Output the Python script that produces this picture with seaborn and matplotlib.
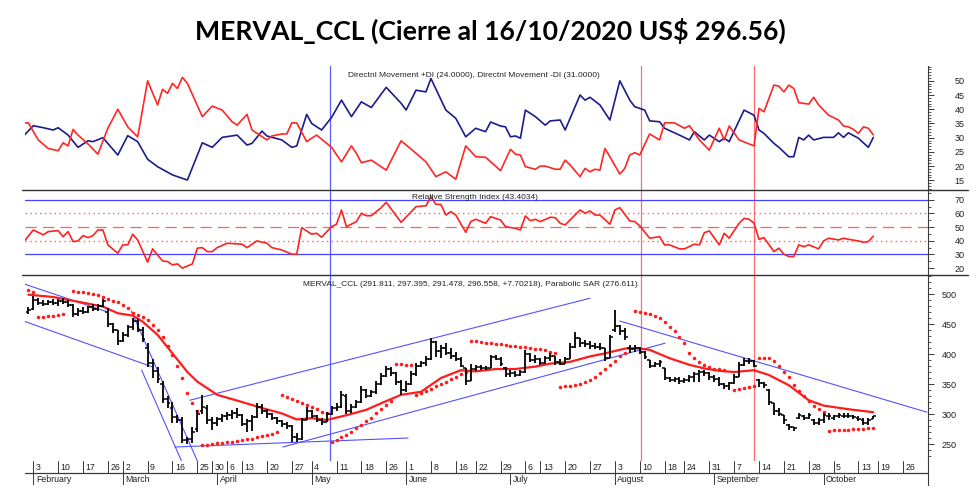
import numpy as np
import pandas as pd
import seaborn as sns
import matplotlib.pyplot as plt
from matplotlib.lines import Line2D


#%% Data (x = trading-day index, 0 = Feb 3 2020)

Title_Text   = "MERVAL_CCL (Cierre al 16/10/2020 US$ 296.56)"
DMI_Caption  = "Directnl Movement +DI (24.0000), Directnl Movement -DI (31.0000)"
RSI_Caption  = "Relative Strength Index (43.4034)"
PX_Caption   = "MERVAL_CCL (291.811, 297.395, 291.478, 296.558, +7.70218), Parabolic SAR (276.611)"

Holidays = ["2020-02-24", "2020-02-25", "2020-03-23", "2020-03-24", "2020-03-31",
            "2020-04-02", "2020-04-09", "2020-04-10", "2020-05-01", "2020-05-25",
            "2020-06-15", "2020-07-09", "2020-07-10", "2020-08-17", "2020-10-12"]

# price bars, day -1 .. 169
bar_first_day = -1
bar_open = [470, 475, 490, 485, 484, 487, 485, 488, 486, 482, 467, 472, 470, 478, 475, 480, 470, 450, 440, 422,
            432, 445, 455, 440, 410, 385, 372, 350, 325, 310, 295, 290, 256, 258, 275, 305, 310, 290, 285, 292,
            296, 299, 302, 298, 284, 288, 295, 312, 305, 300, 293, 288, 284, 280, 262, 258, 290, 305, 297, 290,
            287, 300, 310, 312, 330, 305, 312, 320, 340, 330, 336, 350, 364, 375, 368, 354, 340, 350, 366, 380,
            385, 392, 420, 405, 410, 402, 396, 392, 376, 355, 375, 378, 376, 377, 395, 392, 377, 366, 368, 365,
            370, 400, 390, 392, 385, 393, 396, 386, 384, 392, 412, 426, 418, 416, 414, 412, 410, 394, 440, 446,
            438, 410, 408, 410, 404, 390, 380, 384, 376, 360, 357, 358, 355, 357, 362, 366, 370, 368, 362, 358,
            350, 346, 351, 362, 382, 388, 389, 357, 352, 340, 318, 305, 298, 282, 278, 293, 296, 294, 290, 285,
            290, 296, 294, 296, 296, 297, 296, 294, 290, 285, 291.8]
bar_high = [478, 497, 494, 490, 490, 492, 491, 493, 490, 484, 476, 478, 480, 484, 483, 492, 476, 452, 440, 437,
            448, 460, 458, 445, 418, 392, 378, 355, 330, 320, 298, 295, 262, 278, 307, 332, 315, 295, 295, 300,
            303, 306, 310, 300, 292, 298, 318, 316, 308, 302, 295, 290, 286, 282, 268, 294, 312, 306, 299, 294,
            304, 314, 318, 338, 333, 316, 324, 347, 342, 340, 355, 368, 380, 378, 370, 356, 355, 371, 385, 388,
            396, 427, 422, 415, 418, 410, 403, 395, 376, 383, 382, 382, 380, 398, 399, 395, 378, 373, 371, 374,
            407, 401, 398, 393, 396, 402, 397, 391, 395, 418, 436, 426, 424, 422, 418, 418, 410, 432, 473, 448,
            443, 415, 415, 412, 405, 390, 387, 390, 377, 362, 362, 362, 360, 365, 370, 373, 373, 370, 365, 362,
            351, 353, 366, 387, 393, 394, 390, 358, 354, 341, 319, 310, 299, 283, 279, 301, 298, 301, 291, 294,
            301, 302, 299, 301, 301, 301, 299, 296, 293, 294, 297.4]
bar_low = [466, 474, 482, 480, 481, 482, 480, 483, 478, 462, 464, 466, 468, 472, 472, 478, 445, 435, 415, 420,
           428, 440, 436, 420, 378, 360, 352, 318, 310, 285, 285, 252, 250, 252, 270, 300, 283, 273, 280, 286,
           290, 292, 293, 280, 270, 272, 294, 300, 294, 290, 283, 279, 275, 254, 253, 256, 290, 293, 287, 282,
           286, 298, 305, 310, 300, 302, 310, 318, 326, 328, 334, 348, 362, 364, 348, 332, 337, 348, 364, 378,
           380, 390, 395, 393, 398, 392, 388, 378, 348, 355, 371, 373, 373, 376, 390, 380, 362, 362, 362, 364,
           369, 386, 385, 381, 384, 389, 382, 381, 383, 391, 410, 412, 411, 409, 409, 406, 389, 393, 436, 431,
           423, 401, 403, 400, 392, 376, 378, 379, 356, 353, 353, 350, 351, 353, 353, 354, 364, 357, 354, 346,
           342, 340, 350, 361, 380, 384, 378, 345, 343, 315, 298, 296, 284, 273, 272, 292, 290, 292, 281, 282,
           285, 290, 290, 293, 293, 293, 292, 289, 282, 282, 291.5]
bar_close = [474, 490, 485, 484, 487, 485, 488, 486, 482, 467, 472, 470, 478, 475, 480, 488, 450, 440, 422, 432,
             445, 455, 440, 425, 385, 372, 358, 325, 318, 295, 290, 256, 258, 270, 300, 312, 290, 285, 292, 296,
             299, 302, 298, 284, 288, 295, 312, 305, 300, 293, 288, 284, 280, 262, 258, 290, 305, 297, 290, 287,
             300, 310, 312, 332, 305, 312, 320, 340, 330, 336, 350, 364, 375, 368, 354, 340, 350, 366, 380, 385,
             392, 420, 405, 410, 402, 396, 392, 380, 355, 375, 378, 376, 377, 395, 392, 384, 366, 368, 365, 370,
             400, 390, 392, 385, 393, 396, 386, 384, 392, 412, 426, 418, 416, 414, 412, 410, 394, 428, 446, 438,
             428, 408, 410, 404, 395, 380, 384, 386, 360, 357, 358, 355, 357, 362, 366, 370, 368, 362, 358, 350,
             346, 351, 362, 382, 388, 389, 380, 352, 348, 320, 305, 300, 290, 278, 276, 298, 294, 298, 285, 290,
             298, 296, 296, 298, 297, 297, 295, 292, 285, 290, 296.6]

# moving average (red line)
ma_day = [-1, 4, 11, 14, 17, 20, 22, 25, 28, 31, 33, 37, 42, 46, 50, 53, 56, 59, 63, 67,
          70, 74, 78, 82, 86, 89, 93, 97, 101, 104, 108, 112, 115, 119, 121, 124, 128, 132, 135, 138,
          141, 145, 148, 152, 156, 159, 164, 169]
ma_val = [499, 495, 484, 479, 468, 464, 454, 432, 401, 370, 354, 332, 320, 310, 301, 291, 293, 290, 298, 307,
          318, 332, 337, 360, 373, 371, 375, 375, 379, 384, 387, 396, 401, 409, 410, 407, 393, 382, 376, 372,
          370, 373, 365, 348, 323, 314, 308, 303]

# parabolic SAR runs: (first day, values)
sar_runs = [(-1, [506, 503]),
            (1, [461, 462, 463, 464, 465, 466]),
            (8, [505, 504, 503, 502, 500, 498, 495, 492, 489, 486, 482, 476, 468, 465, 462, 457, 449, 440, 428, 413,
                 398, 380, 360, 335, 318, 305]),
            (34, [248, 249, 250, 251, 252, 253, 254, 255, 256, 258, 259, 261, 263, 265, 267, 270]),
            (50, [332, 329, 325, 322, 318, 315, 311, 308, 304, 301]),
            (60, [254, 257, 261, 265, 270, 276, 282, 288, 294, 301, 308, 315, 322]),
            (73, [384, 383, 382, 381]),
            (77, [332, 335, 338, 342, 346, 350, 354, 358, 362, 366, 370]),
            (88, [422, 421, 420, 419, 418, 417, 416, 415, 414, 413, 412, 411, 410, 409, 408, 406, 404, 402]),
            (106, [345, 346, 347, 348, 350, 353, 357, 362, 368, 375, 382, 389, 396, 402]),
            (121, [472, 470.5, 469, 467.5, 464, 459.5, 453, 445.5, 438, 429, 418, 402, 393, 387, 382, 378, 375.5,
                   374.5, 374]),
            (141, [340, 342, 344, 345, 347]),
            (146, [394, 393.5, 393, 389, 380, 370, 361, 348, 339, 330, 322, 314, 308, 303]),
            (160, [272.5, 273, 273.3, 273.6, 274, 274.5, 275, 275.5, 276, 276.6])]

# trend lines drawn on the price chart: (day0, price0, day1, price1)
trend_lines = [(-2.3, 518, 14.6, 471),
               (-2.3, 456, 23.8, 379),
               (19.7, 472, 33.1, 220),
               (21.8, 373, 29.9, 220),
               (28.5, 245, 75.4, 260),
               (31.5, 323, 112.0, 493),
               (50.2, 245, 127.1, 418),
               (118.0, 455, 179.8, 303)]

# DMI
dip_day = [-2, 0, 2, 4, 5, 7, 9, 11, 12, 14, 17, 19, 21, 23, 25, 28, 31, 34, 36, 38,
           41, 43, 44, 46, 47, 50, 52, 53, 55, 56, 58, 60, 62, 64, 66, 68, 71, 74, 75, 77,
           79, 80, 83, 85, 87, 89, 91, 92, 94, 95, 96, 97, 98, 99, 101, 103, 104, 106, 107, 110,
           111, 112, 114, 116, 118, 120, 121, 123, 124, 126, 127, 130, 132, 133, 134, 135, 136, 138, 139, 140,
           143, 145, 146, 147, 149, 150, 152, 153, 154, 155, 156, 157, 159, 161, 162, 163, 164, 166, 168, 169]
dip_val = [30.5, 34.2, 33.5, 32.7, 33.5, 30.9, 26.6, 28.9, 28.6, 30.0, 23.9, 30.7, 28.6, 22.4, 19.8, 16.9, 15.1, 28.2, 26.6, 30.1,
           30.9, 27.4, 28.0, 32.3, 30.6, 29.2, 26.6, 27.1, 38.2, 35.0, 32.7, 37.1, 43.2, 37.4, 42.6, 40.6, 47.7, 42.1, 39.7, 46.7,
           46.1, 50.8, 39.7, 36.8, 30.3, 33.3, 32.1, 35.5, 34.1, 33.8, 30.3, 30.6, 29.8, 39.7, 37.4, 34.4, 35.9, 36.2, 32.7, 45.0,
           43.2, 44.2, 41.5, 36.2, 50.0, 43.2, 40.9, 39.7, 35.9, 35.6, 33.3, 30.9, 29.2, 32.1, 30.6, 29.2, 30.9, 28.6, 29.8, 28.6,
           39.7, 37.9, 32.7, 31.5, 28.0, 26.6, 23.3, 23.3, 30.1, 29.2, 30.9, 29.2, 30.1, 30.1, 31.7, 30.1, 31.7, 29.8, 26.6, 30.1]

dim_day = [-2, -1, 1, 3, 5, 6, 7, 8, 9, 11, 13, 15, 17, 19, 21, 23, 25, 26, 27, 28,
           29, 30, 31, 34, 36, 38, 40, 41, 43, 44, 47, 48, 50, 51, 52, 53, 55, 56, 57, 60,
           62, 64, 65, 66, 68, 71, 74, 77, 79, 81, 83, 85, 87, 89, 91, 93, 94, 96, 97, 98,
           99, 101, 102, 103, 105, 106, 107, 108, 110, 111, 112, 113, 114, 115, 116, 118, 119, 120, 121, 122,
           124, 126, 127, 129, 131, 132, 134, 136, 138, 139, 140, 142, 145, 146, 147, 149, 150, 151, 152, 153,
           154, 156, 157, 158, 160, 162, 163, 164, 165, 166, 167, 168, 169]
dim_val = [35.2, 35.2, 29.2, 26.2, 25.4, 28.2, 27.1, 32.9, 30.9, 27.8, 24.2, 33.3, 40.0, 33.8, 30.3, 50.0, 41.5, 47.0, 45.6, 49.1,
           47.3, 51.2, 49.1, 37.4, 41.1, 39.7, 35.6, 34.4, 38.2, 32.7, 29.2, 30.6, 31.3, 31.3, 35.2, 35.2, 28.6, 29.8, 30.9, 26.6,
           21.5, 27.1, 24.5, 21.2, 22.1, 18.6, 28.9, 24.5, 21.5, 16.3, 18.0, 15.4, 27.1, 23.3, 23.1, 20.0, 18.4, 25.9, 24.2, 23.9,
           19.8, 18.9, 20.0, 20.0, 18.9, 18.9, 22.1, 20.4, 16.3, 19.2, 18.0, 18.9, 18.6, 26.2, 23.3, 17.2, 19.2, 23.9, 24.7, 23.9,
           31.3, 29.2, 35.2, 35.2, 33.3, 34.2, 29.2, 25.6, 33.3, 29.2, 34.1, 29.2, 27.1, 40.3, 39.1, 48.5, 48.1, 46.1, 48.5, 47.3,
           42.3, 41.8, 44.2, 41.5, 37.9, 36.2, 34.1, 33.8, 32.9, 31.5, 33.8, 33.3, 31.0]

# RSI
rsi_day = [-2, 0, 2, 3, 5, 6, 7, 8, 9, 10, 11, 12, 13, 14, 15, 17, 18, 19, 20, 21,
           23, 24, 26, 27, 28, 29, 30, 32, 33, 34, 35, 36, 37, 39, 42, 43, 45, 47, 48, 50,
           52, 53, 54, 56, 57, 58, 60, 61, 62, 63, 65, 66, 67, 68, 70, 71, 74, 77, 79, 80,
           81, 82, 83, 84, 85, 87, 88, 89, 91, 92, 94, 95, 97, 98, 99, 100, 101, 102, 104, 105,
           106, 107, 110, 111, 112, 113, 114, 116, 117, 118, 120, 121, 122, 124, 126, 127, 128, 130, 131, 133,
           134, 135, 136, 138, 139, 140, 142, 143, 144, 145, 146, 147, 149, 150, 151, 152, 153, 154, 155, 156,
           158, 159, 160, 162, 163, 164, 166, 167, 168, 169]
rsi_val = [38.9, 47.9, 44.3, 46.7, 47.4, 43.0, 46.7, 39.4, 39.9, 43.8, 42.3, 43.8, 47.9, 47.9, 37.0, 30.9, 37.0, 37.0, 44.8, 40.6,
           24.4, 34.1, 25.3, 24.8, 22.4, 23.1, 20.0, 23.1, 34.6, 35.0, 32.1, 32.1, 35.0, 38.2, 37.5, 35.0, 39.9, 38.2, 35.0, 33.3,
           30.2, 30.2, 49.6, 44.8, 45.5, 42.6, 50.3, 52.1, 62.5, 50.3, 54.0, 60.1, 58.3, 58.3, 64.2, 68.1, 53.5, 64.9, 65.6, 72.2,
           66.6, 66.6, 58.8, 61.3, 58.8, 46.2, 54.0, 55.7, 52.8, 57.6, 55.2, 50.3, 49.1, 47.9, 58.1, 54.7, 55.7, 54.0, 57.2, 56.9,
           52.8, 51.6, 62.5, 60.1, 61.8, 58.8, 58.8, 52.1, 62.5, 64.2, 54.5, 54.0, 51.0, 41.9, 43.0, 37.0, 37.0, 34.1, 34.1, 37.5,
           37.0, 45.9, 47.2, 37.0, 45.5, 41.9, 52.8, 56.4, 55.7, 52.8, 41.1, 42.3, 32.1, 34.6, 30.2, 28.5, 28.5, 37.0, 35.7, 37.0,
           34.1, 39.9, 41.9, 40.6, 41.9, 41.1, 39.9, 38.9, 39.4, 43.4]
rsi_levels = [70, 60, 50, 40, 30]

# marker verticals
vline_blue_days = [59.6]
vline_red_days  = [122.2, 145.0]


#%% Style

Fig_W, Fig_H = 980, 494
XLim = [-1.67, 180]

Color_DIp   = "#1c1c8c"
Color_DIm   = "#ff2626"
Color_RSI   = "#ff2222"
Color_MA    = "#ff1c1c"
Color_SAR   = "#ff1c1c"
Color_Trend = "#5252ff"
Color_VBlue = "#5a5aff"
Color_VRed  = "#ff6a6a"
Axis_Color  = "#3a3a3a"
Text_Color  = "#222222"

FontSize_Tick    = 6.5
FontSize_Caption = 6
FontSize_Date    = 6.3


sns.set_style("white")
plt.rcParams["font.family"] = ["Liberation Sans", "DejaVu Sans"]


def fig_box(x0, y0, x1, y1):
    # pixel box (origin top-left) -> figure fractions
    return [x0 / Fig_W, 1 - y1 / Fig_H, (x1 - x0) / Fig_W, (y1 - y0) / Fig_H]


def style_panel(ax, ylim, major, minor, pad):
    ax.set_xlim(XLim)
    ax.set_ylim(ylim)
    ax.set_xticks([])
    ax.yaxis.tick_right()
    ax.set_yticks(major)
    ax.set_yticks(minor, minor=True)
    ax.tick_params(axis="y", which="major", length=4, width=0.7, pad=pad,
                   labelsize=FontSize_Tick, colors=Axis_Color, labelcolor=Text_Color)
    ax.tick_params(axis="y", which="minor", length=2, width=0.6, colors=Axis_Color)
    ax.spines[["left", "top", "bottom"]].set_visible(False)
    ax.spines["right"].set_color(Axis_Color)
    ax.spines["right"].set_linewidth(0.8)
    ax.set_xlabel("")
    ax.set_ylabel("")
    ax.patch.set_alpha(0)


def draw_verticals(ax):
    for d in vline_blue_days:
        ax.axvline(d, color=Color_VBlue, lw=0.9, zorder=1)
    for d in vline_red_days:
        ax.axvline(d, color=Color_VRed, lw=0.9, zorder=1)


Fig = plt.figure(figsize=[Fig_W / 100, Fig_H / 100], dpi=100)

ax_dmi = Fig.add_axes(fig_box(25, 66, 928, 190))
ax_rsi = Fig.add_axes(fig_box(25, 190, 928, 275))
ax_px  = Fig.add_axes(fig_box(25, 275, 928, 461))
ax_dt  = Fig.add_axes(fig_box(25, 461, 928, 485))


#%% DMI panel
draw_verticals(ax_dmi)
sns.lineplot(x=dip_day, y=dip_val, ax=ax_dmi, color=Color_DIp, linewidth=1.2,
             estimator=None, sort=False, legend=False, zorder=3)
sns.lineplot(x=dim_day, y=dim_val, ax=ax_dmi, color=Color_DIm, linewidth=1.2,
             estimator=None, sort=False, legend=False, zorder=3)
style_panel(ax_dmi, [11.6, 55.2], np.arange(15, 51, 5), np.arange(12, 56, 1), 15)


#%% RSI panel
draw_verticals(ax_rsi)
for lev in rsi_levels:
    if lev in (70, 30):
        ax_rsi.axhline(lev, color="#4444ff", lw=0.9, zorder=1)
    elif lev == 50:
        ax_rsi.axhline(lev, color="#ff6060", lw=0.9, ls=(0, (9, 5)), zorder=1)
    else:
        ax_rsi.axhline(lev, color="#ff6060", lw=1.0, ls=(0, (1, 2.5)), zorder=1)
sns.lineplot(x=rsi_day, y=rsi_val, ax=ax_rsi, color=Color_RSI, linewidth=1.2,
             estimator=None, sort=False, legend=False, zorder=3)
style_panel(ax_rsi, [15.1, 77.1], np.arange(20, 71, 10), np.arange(15, 80, 5), 15)


#%% Price panel
draw_verticals(ax_px)

for d0, p0, d1, p1 in trend_lines:
    ax_px.plot([d0, d1], [p0, p1], color=Color_Trend, lw=0.8, zorder=2)

sns.lineplot(x=ma_day, y=ma_val, ax=ax_px, color=Color_MA, linewidth=1.6,
             estimator=None, sort=False, legend=False, zorder=3)

sar_day, sar_val = [], []
for start, vals in sar_runs:
    for k, v in enumerate(vals):
        sar_day.append(start + k)
        sar_val.append(v)
sns.scatterplot(x=sar_day, y=sar_val, ax=ax_px, color=Color_SAR, s=6.5,
                linewidth=0, legend=False, zorder=4)

bar_day = np.arange(len(bar_close)) + bar_first_day
ax_px.vlines(bar_day, bar_low, bar_high, color="k", lw=1.3, zorder=5)
ax_px.hlines(bar_open, bar_day - 0.55, bar_day, color="k", lw=1.1, zorder=5)
ax_px.hlines(bar_close, bar_day, bar_day + 0.55, color="k", lw=1.1, zorder=5)

style_panel(ax_px, [221.7, 531.7], np.arange(250, 501, 50), np.arange(230, 531, 10), 6)


#%% Date axis
Days = pd.bdate_range("2020-01-31", "2020-11-03", freq="C", holidays=Holidays)
Week = Days.isocalendar().week.values
week_start  = [i for i in range(1, len(Days)) if Week[i] != Week[i - 1]]
month_start = [i for i in range(1, len(Days)) if Days[i].month != Days[i - 1].month]

ax_dt.set_xlim(XLim)
ax_dt.set_ylim(0, 2)
ax_dt.axhline(1, color=Axis_Color, lw=0.9)
for i in week_start:
    d = i + bar_first_day
    ax_dt.plot([d, d], [1, 2], color=Axis_Color, lw=0.7, clip_on=True)
    ax_dt.text(d + 0.5, 1.45, str(Days[i].day), fontsize=FontSize_Date, color=Text_Color,
               ha="left", va="center", clip_on=True)
for i in month_start:
    d = i + bar_first_day
    ax_dt.plot([d, d], [0, 1], color=Axis_Color, lw=0.7, clip_on=True)
    ax_dt.text(d + 0.5, 0.45, Days[i].strftime("%B"), fontsize=FontSize_Date, color=Text_Color,
               ha="left", va="center", clip_on=True)
ax_dt.set_xticks([])
ax_dt.set_yticks([])
ax_dt.spines[["left", "top", "bottom"]].set_visible(False)
ax_dt.spines["right"].set_color(Axis_Color)
ax_dt.spines["right"].set_linewidth(0.8)
ax_dt.patch.set_alpha(0)


#%% Panel separators and texts
for y_px in (190, 275):
    Fig.add_artist(Line2D([22 / Fig_W, 968 / Fig_W], [1 - y_px / Fig_H] * 2,
                          color="#333333", lw=1.0, transform=Fig.transFigure))

Fig.text(0.5, 1 - 31 / Fig_H, Title_Text, ha="center", va="center", fontsize=19.2,
         fontweight="bold", family=["Lato", "DejaVu Sans"], color="black")
Fig.text(348 / Fig_W, 1 - 75 / Fig_H, DMI_Caption, ha="left", va="center",
         fontsize=FontSize_Caption, color=Text_Color)
Fig.text(412 / Fig_W, 1 - 197 / Fig_H, RSI_Caption, ha="left", va="center",
         fontsize=FontSize_Caption, color=Text_Color)
Fig.text(303 / Fig_W, 1 - 285 / Fig_H, PX_Caption, ha="left", va="center",
         fontsize=FontSize_Caption, color=Text_Color)

Fig.savefig("out.png", dpi=100)
